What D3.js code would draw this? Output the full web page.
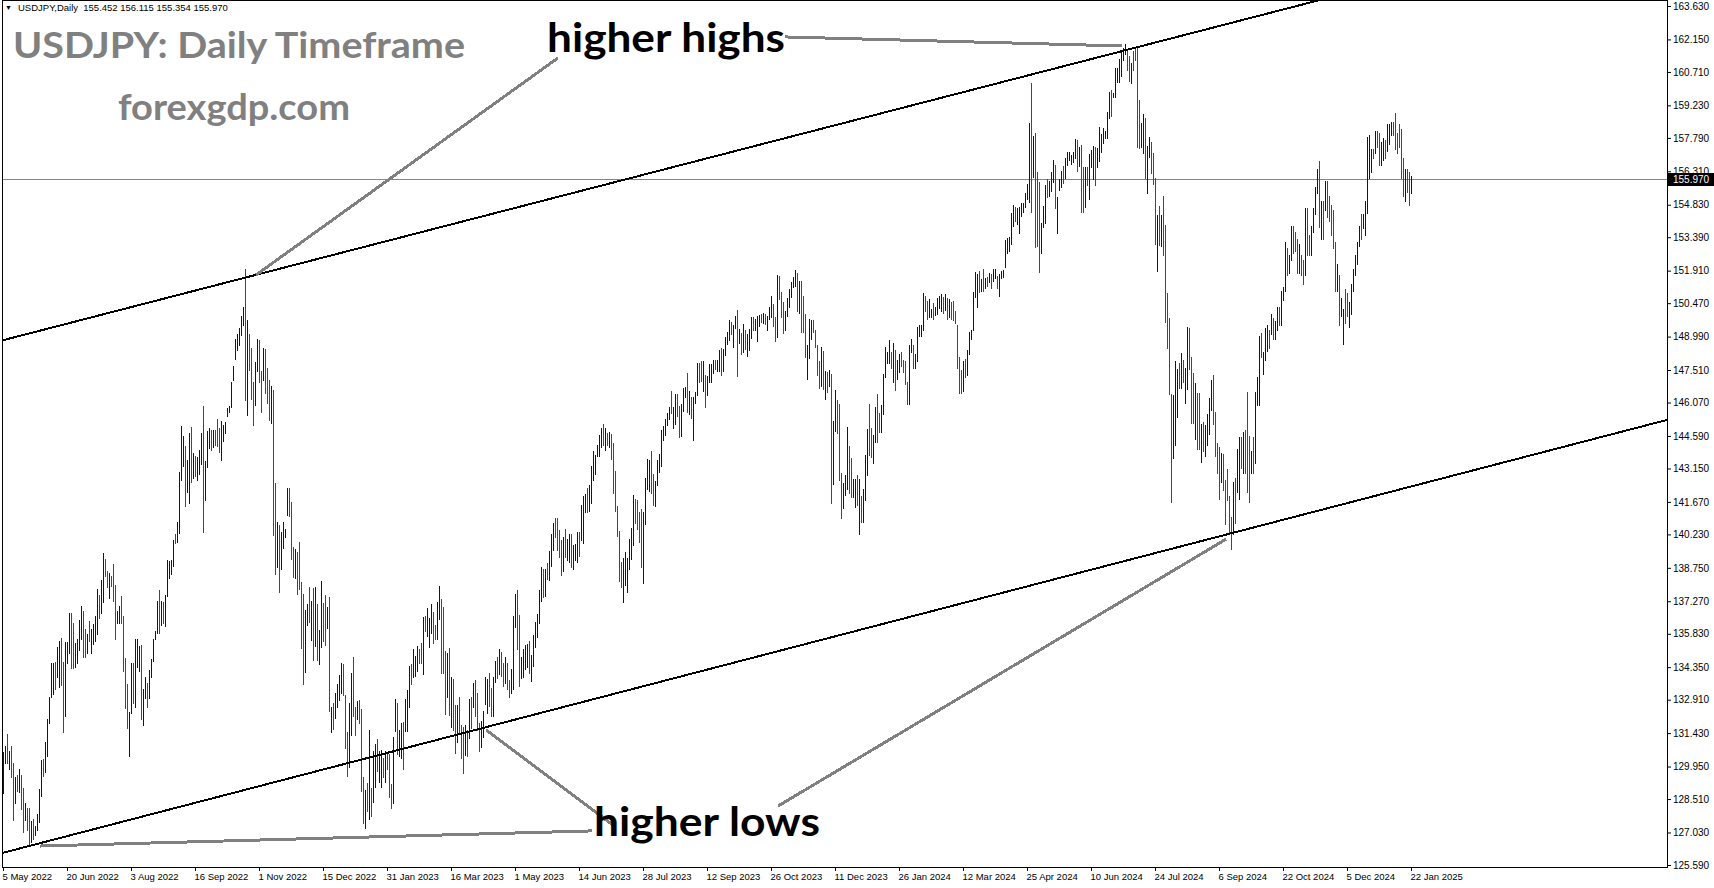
<!DOCTYPE html>
<html><head><meta charset="utf-8">
<script src="https://cdn.jsdelivr.net/npm/d3@7"></script>
<style>html,body{margin:0;padding:0;background:#fff;overflow:hidden}svg{display:block}</style>
</head><body>
<svg id="chart" width="1714" height="888"></svg>
<script>
// ---------------- DATA ----------------
const symbolName = "USDJPY,Daily";
const lastOHLC = [155.452, 156.115, 155.354, 155.970];
const currentPrice = 155.970;
const titleText = "USDJPY: Daily Timeframe";
const siteText = "forexgdp.com";
const firstDate = "2022-05-05";
const holidays = ["2023-01-02", "2023-12-25", "2024-01-01", "2024-12-25", "2025-01-01"];
const xTickLabels = ["5 May 2022","20 Jun 2022","3 Aug 2022","16 Sep 2022","1 Nov 2022","15 Dec 2022",
  "31 Jan 2023","16 Mar 2023","1 May 2023","14 Jun 2023","28 Jul 2023","12 Sep 2023","26 Oct 2023",
  "11 Dec 2023","26 Jan 2024","12 Mar 2024","25 Apr 2024","10 Jun 2024","24 Jul 2024","6 Sep 2024",
  "22 Oct 2024","5 Dec 2024","22 Jan 2025"];
const yTickValues = [163.630,162.150,160.710,159.230,157.790,156.310,154.830,153.390,151.910,150.470,
  148.990,147.510,146.070,144.590,143.150,141.670,140.230,138.750,137.270,135.830,134.350,132.910,
  131.430,129.950,128.510,127.030,125.590];

// daily bar highs (one per trading day)
const highs = [
  130.59,130.86,131.39,130.65,130.86,130.12,129.47,129.57,129.82,129.57,
  128.98,128.32,128.13,128.13,127.54,127.61,127.31,127.87,128.94,130.24,
  130.27,131.05,132.04,133.04,134.55,134.55,134.59,135.26,135.51,135.63,
  134.59,135.48,135.48,136.73,136.73,136.32,135.40,135.58,136.44,137.06,
  136.85,136.02,135.82,136.41,136.02,136.26,136.61,137.80,137.54,138.21,
  139.39,139.12,138.62,138.53,138.39,138.92,137.99,136.85,137.06,137.50,
  136.61,134.74,133.60,132.38,134.55,134.55,135.58,135.58,135.29,135.33,
  133.37,133.93,133.63,134.22,134.70,135.58,135.96,137.29,137.77,137.29,
  137.25,137.54,139.09,139.06,139.09,139.98,140.25,140.80,143.00,
  145.03,144.59,144.13,143.52,144.72,145.00,143.85,143.72,143.64,143.97,
  144.72,145.90,143.47,144.80,144.92,144.87,144.84,144.84,145.33,144.92,
  145.25,145.08,145.20,145.82,145.90,146.97,147.67,148.90,149.10,149.39,
  149.92,150.30,151.97,149.72,149.10,148.48,147.00,147.85,148.89,148.85,
  147.46,148.48,148.44,147.59,147.05,146.80,146.64,142.49,140.80,140.64,
  140.32,140.77,140.49,142.28,142.28,141.65,139.67,139.59,139.46,139.91,
  138.14,137.59,136.88,137.13,137.90,137.29,137.86,137.90,137.16,136.01,
  138.18,137.21,137.54,137.00,137.48,132.57,132.75,133.19,133.60,134.00,
  134.53,134.50,133.11,131.47,132.78,134.09,134.80,132.57,132.86,132.90,
  132.52,129.50,128.91,129.23,131.59,128.98,130.65,130.95,131.15,130.65,
  130.68,130.31,130.65,130.56,130.50,129.17,131.24,132.92,132.75,131.57,
  131.89,131.93,132.92,133.34,134.40,134.49,135.14,134.84,135.29,135.14,
  135.40,136.58,136.61,136.95,136.55,137.15,136.81,136.22,137.25,137.94,
  137.35,137.03,135.06,134.96,135.18,133.90,133.81,132.67,132.67,133.04,
  131.79,131.71,131.79,131.59,132.92,133.04,133.66,133.78,133.19,131.89,
  131.98,132.42,133.93,133.81,134.10,133.45,133.90,134.64,134.78,135.14,
  135.03,134.52,134.78,134.52,133.78,134.25,136.61,137.59,137.79,136.66,
  134.81,135.14,135.33,135.37,135.52,134.89,135.77,136.36,136.70,137.77,
  138.77,138.72,138.72,138.98,139.51,140.27,140.72,140.97,140.97,140.42,
  139.98,140.13,140.45,140.01,140.27,140.25,139.76,139.80,140.35,140.35,
  141.53,141.93,142.01,142.27,142.42,143.26,143.94,143.74,144.19,144.63,
  144.93,145.12,144.93,144.73,144.78,144.67,144.26,143.05,141.49,140.39,
  139.02,139.17,139.46,139.20,140.01,140.50,141.97,141.82,141.75,141.23,
  141.34,141.23,142.71,143.55,143.52,143.94,142.90,142.61,143.52,143.79,
  144.85,145.03,145.32,145.62,145.88,146.59,145.88,146.45,146.45,145.91,
  146.00,146.70,146.77,147.39,146.59,146.30,146.33,146.55,147.80,147.83,
  147.91,147.91,147.29,147.24,147.76,147.76,147.95,147.95,147.95,148.39,
  148.47,148.42,148.96,149.21,149.72,149.63,149.50,149.90,150.17,149.31,
  149.16,149.55,149.28,149.10,149.31,149.87,149.87,149.75,149.90,149.94,
  149.99,150.05,149.99,149.90,150.31,150.79,150.43,149.87,151.72,151.67,
  150.98,150.53,150.14,150.68,151.08,151.42,151.61,151.94,151.79,151.46,
  151.46,150.79,149.99,148.62,149.75,149.72,149.72,149.28,148.62,147.92,
  148.51,148.36,147.48,147.42,147.51,147.33,145.23,146.62,146.18,146.00,
  142.93,142.52,142.86,144.99,144.14,143.60,142.67,142.70,142.86,142.67,
  141.93,142.22,143.74,144.90,146.00,144.95,144.65,145.88,146.45,145.62,
  145.96,147.33,148.54,148.32,148.84,148.32,148.69,148.39,147.95,148.22,
  148.30,147.95,147.90,147.00,148.60,148.90,148.60,148.20,149.40,149.50,
  149.50,150.91,150.79,150.58,150.64,150.20,150.46,150.32,150.69,150.79,
  150.88,150.76,150.88,150.72,150.64,150.54,150.58,150.14,149.50,148.10,
  147.50,147.90,148.00,148.40,149.20,149.30,150.98,151.84,151.76,151.91,
  151.53,151.97,151.57,151.62,151.79,151.76,151.97,151.97,151.68,151.76,
  151.91,151.94,153.27,153.34,153.39,154.45,154.82,154.75,154.67,154.72,
  154.89,154.92,155.37,155.75,158.44,160.21,157.88,157.99,156.30,155.85,
  154.01,154.78,155.71,155.96,155.90,156.30,156.81,156.59,155.16,155.96,
  156.34,156.55,156.88,157.18,157.18,157.03,157.18,157.73,157.70,157.38,
  157.48,156.51,156.51,156.51,157.06,157.25,157.45,157.37,157.36,158.26,
  157.96,158.23,158.11,158.93,159.83,159.90,159.76,160.89,160.89,161.30,
  161.70,161.75,161.94,161.64,161.40,161.10,161.64,161.82,161.75,159.46,
  158.45,158.83,158.65,157.45,157.85,157.60,157.11,156.01,154.37,154.78,
  154.38,155.23,153.93,150.92,149.81,146.43,146.40,147.90,147.57,147.82,
  148.27,147.97,147.60,149.42,149.36,148.09,147.37,146.95,146.50,146.47,
  145.13,145.20,145.08,145.58,146.28,147.07,147.27,145.65,144.30,144.08,
  143.85,143.78,142.63,143.14,141.91,140.98,142.54,142.73,144.00,144.53,
  144.53,144.75,144.87,146.55,144.57,143.93,144.53,146.55,147.22,149.02,
  149.17,148.30,149.37,149.50,149.30,149.98,149.80,149.70,150.30,150.30,
  151.00,151.20,153.20,152.90,152.60,153.90,153.90,153.60,153.30,153.10,
  152.60,152.40,154.70,154.70,153.50,153.90,154.70,155.60,156.41,156.77,
  155.00,155.00,155.90,155.90,155.20,154.80,154.60,153.20,152.20,151.70,
  150.70,150.20,151.10,150.90,150.50,151.30,152.00,152.60,153.20,153.90,
  154.40,154.40,155.00,157.85,157.90,157.30,157.30,158.10,158.10,158.00,
  157.60,157.80,157.70,158.40,158.40,158.50,158.50,158.91,158.00,158.40,
  158.20,156.90,156.40,156.40,156.30,156.12
];

// daily bar lows
const lows = [
  128.80,130.12,130.12,129.82,129.47,127.58,128.32,128.88,128.83,128.05,
  127.06,127.58,127.14,126.43,126.62,126.72,126.92,127.14,127.51,128.64,
  129.53,129.72,130.41,131.89,133.01,133.16,133.37,133.90,133.48,133.56,
  131.49,132.19,134.55,134.96,134.30,134.30,134.37,134.55,135.11,135.58,
  134.78,134.78,134.96,135.52,134.96,135.37,135.52,135.82,136.51,136.73,
  137.25,138.39,137.91,137.40,137.94,137.29,135.58,136.29,136.29,136.32,
  134.19,132.53,131.64,130.41,132.30,132.78,132.60,134.37,134.19,132.04,
  131.77,132.97,132.57,132.97,133.93,134.64,135.58,135.88,135.85,136.22,
  136.32,136.17,137.50,138.28,138.47,138.83,139.86,139.90,140.30,
  142.62,143.28,141.51,142.10,141.60,142.54,142.75,142.82,142.62,142.90,
  143.36,140.32,141.75,143.23,144.06,143.97,144.10,144.18,144.15,143.88,
  143.52,144.38,144.74,145.46,145.66,145.85,147.08,147.98,148.41,148.61,
  149.07,149.51,146.18,145.52,147.53,146.23,145.08,145.95,147.46,146.97,
  145.66,147.05,146.51,146.07,145.28,145.16,140.21,138.47,138.77,137.67,
  138.68,139.62,140.11,141.10,141.06,139.13,138.36,138.31,137.59,137.83,
  135.19,133.60,134.13,136.22,136.34,135.57,134.67,135.27,134.67,134.50,
  135.24,135.49,135.32,136.10,132.40,131.47,131.63,132.12,132.60,132.90,
  133.20,133.11,130.76,129.55,129.91,131.34,132.20,131.34,132.04,131.90,
  128.88,127.46,127.24,127.99,127.61,127.76,128.39,129.06,129.76,129.28,
  129.06,129.50,129.28,129.82,128.58,128.10,128.35,131.54,130.50,130.41,
  130.35,129.82,131.54,131.54,132.57,133.60,133.93,133.96,134.19,134.55,
  134.52,134.05,135.96,135.73,135.26,135.88,135.40,135.58,135.58,136.47,
  134.10,134.10,132.27,133.04,132.23,131.71,131.57,130.56,131.05,131.42,
  130.31,129.68,130.46,130.41,131.20,131.64,132.60,132.19,131.57,130.65,
  130.80,131.27,132.72,132.33,132.63,132.19,132.19,133.71,133.85,134.05,
  133.96,133.51,133.63,133.37,133.01,133.22,133.37,136.11,135.14,133.51,
  133.85,133.90,134.25,134.34,134.10,133.75,134.40,135.23,135.67,136.32,
  137.29,137.44,137.50,138.24,138.21,138.83,139.54,140.13,139.56,139.24,
  138.43,138.62,139.24,139.09,139.02,138.80,138.72,139.09,139.02,139.27,
  139.98,139.86,141.23,141.23,141.28,141.63,142.64,142.90,143.70,143.70,
  144.11,144.19,143.99,144.19,144.08,143.55,142.08,141.28,140.16,138.18,
  137.91,137.25,137.99,137.69,138.72,139.12,139.76,140.72,140.45,139.91,
  138.77,138.06,140.69,142.22,142.17,142.08,141.53,141.49,142.42,143.01,
  143.26,144.41,144.63,145.07,145.32,145.62,144.93,145.12,145.47,144.56,
  144.59,145.71,146.30,145.66,145.56,145.37,144.41,146.03,146.40,146.99,
  147.04,146.59,145.88,146.40,146.99,146.99,147.36,147.54,147.48,147.46,
  147.29,147.48,148.17,148.66,148.84,149.10,148.51,149.35,147.24,148.69,
  148.22,148.32,148.42,148.13,148.39,148.91,149.28,149.28,148.81,149.46,
  149.65,149.60,149.55,149.28,149.75,149.84,149.46,148.81,148.98,150.64,
  149.84,149.13,149.28,149.90,150.31,150.76,151.17,151.23,150.14,150.05,
  149.21,149.21,148.10,147.12,148.03,148.87,149.21,148.51,147.29,146.70,
  146.80,146.65,146.24,146.55,146.80,141.63,142.46,144.82,144.73,142.64,
  140.97,141.41,141.97,142.24,142.05,141.87,141.87,141.46,141.53,140.27,
  140.79,140.79,141.75,142.86,143.74,143.67,143.40,144.33,144.33,144.78,
  144.75,145.56,147.21,147.83,147.80,147.58,146.99,146.62,147.10,147.43,
  147.70,147.40,146.90,146.00,146.00,148.30,147.60,147.60,147.90,149.00,
  149.00,149.30,150.13,149.76,149.84,149.84,149.76,149.95,149.99,150.24,
  150.14,150.05,150.17,149.76,149.84,149.76,149.73,149.60,147.60,146.50,
  146.50,146.60,147.20,147.30,148.20,148.90,149.30,150.73,150.29,150.98,
  151.03,151.03,151.13,151.23,151.42,151.13,151.47,151.57,151.13,150.79,
  151.57,151.62,152.06,152.71,152.80,153.09,153.89,154.13,153.98,153.59,
  154.33,154.52,154.72,155.07,154.97,154.52,156.04,152.97,152.98,151.86,
  152.71,153.83,154.01,155.16,155.22,155.44,155.85,154.67,153.59,155.46,
  155.63,155.81,156.00,156.59,156.79,156.63,156.74,156.88,156.34,156.55,
  154.51,154.51,154.75,155.71,155.08,156.51,155.98,155.71,156.51,156.76,
  157.15,157.55,157.78,157.78,158.65,158.75,159.58,159.58,160.25,160.25,
  160.55,161.25,161.52,160.80,160.32,160.20,160.80,161.22,157.40,157.33,
  157.40,157.11,156.01,155.35,156.96,156.25,155.76,153.11,151.91,153.06,
  153.02,152.61,149.62,148.50,146.43,141.68,143.63,144.18,145.43,146.70,
  146.70,147.00,146.07,146.65,147.57,145.17,145.17,144.45,144.03,144.03,
  143.44,143.93,143.70,144.18,144.68,145.73,145.13,143.70,142.96,141.79,
  142.54,142.21,140.71,141.76,140.26,139.59,140.26,140.74,142.13,141.79,
  143.18,142.93,142.96,142.09,141.68,142.96,142.96,143.41,145.95,145.95,
  148.10,147.35,147.95,148.35,148.50,149.10,148.90,148.90,149.30,149.50,
  149.50,150.60,151.00,151.70,151.80,152.40,152.70,152.80,151.80,151.80,
  151.70,151.30,151.70,152.60,152.60,152.60,153.60,154.40,155.34,153.86,
  153.30,153.30,154.60,154.30,154.10,153.50,152.90,151.00,151.00,149.50,
  149.90,148.65,149.60,149.90,149.40,150.00,151.00,151.70,152.20,153.00,
  153.30,153.80,153.50,154.45,156.00,156.30,156.90,157.10,157.40,156.60,
  156.60,156.80,156.90,157.20,157.50,157.90,157.90,157.30,157.10,157.40,
  156.00,155.20,154.98,155.40,154.80,155.35
];

// bar direction per day: u = close above open (blue), d = close below open (red)
const barDirs = [
  "uududdudud","dudduduuuu","duuuuuduud","duuudduuuu","dduduuuudu","udduddduud","ddduuduuud","uuduuuuudu","duuuuuduu",
  "uuduududuu","uduuududdd","uuuuuuuuuu","uududdduud","duddduddud","uuuudddudd","dduudududu","uddududuuu","uddduuddud",
  "ddududuudu","ududdduudu","uduuuduuud","duduuudduu","dddududdud","ddudududdd","uuuudduudu","ddudduuudd","uuuuduuuuu",
  "ududuuuddd","duduuduuud","uuuduuuuuu","udududdddd","duuuuuuddd","duuuudduuu","uuuuuduudd","uuududuuud","duduuuuduu",
  "duuuuduudu","duduuuduuu","duduuuddud","dduuuuuudu","ddduuudddd","udududuudd","duuudduudu","duuudduudd","uuuuududuu",
  "dddduuduuu","uudduuduuu","udududdddd","duduuuuuud","udududuudu","uuuuuuuduu","uuuuududdd","uuuduuuduu","uduuuuuudu",
  "dduduuuduu","uuuuuduuuu","uuuddudddd","uuduudddud","uddddduuud","uduudddudd","uduuuudddd","uddddduduu","duddduduuu",
  "duuududuud","uuuduudddu","ddudduuuud","ududddddud","uudduuuuuu","duuuuududd","uuduuudddd","dduddu"
];

// trend-channel anchors: [bar index, price]
const upperChannel = [[0, 148.83], [538, 161.14]];
const lowerChannel = [[0, 126.13], [832, 145.30]];
// annotation pointer lines: [bar index, price] pairs
const pointerLines = [
  [[126.5, 151.72], [277.5, 161.33]],
  [[391, 162.26], [559.5, 161.86]],
  [[18.5, 126.43], [294.5, 127.10]],
  [[241.5, 131.57], [305.5, 127.32]],
  [[387.5, 128.20], [611.5, 140.02]]
];

// ---------------- DRAW ----------------
const W = 1714, H = 888;
const plot = {left: 2, right: 1667, top: 0, bottom: 867};
const n = highs.length;
const dirs = barDirs.join("").split("");

const parseISO = d3.utcParse("%Y-%m-%d");
const fmtISO = d3.utcFormat("%Y-%m-%d");
const fmtLabel = d3.utcFormat("%-d %b %Y");
const dates = [];
let cur = parseISO(firstDate);
while (dates.length < n) {
  const wd = cur.getUTCDay();
  if (wd !== 0 && wd !== 6 && !holidays.includes(fmtISO(cur))) dates.push(cur);
  cur = d3.utcDay.offset(cur, 1);
}
const labelIndex = new Map(dates.map((d, i) => [fmtLabel(d), i]));
const xTickIdx = xTickLabels.map(l => labelIndex.get(l));

const x = d3.scaleLinear().domain([0, n - 1]).range([3, 3 + 2 * (n - 1)]);
const y = d3.scaleLinear().domain([yTickValues[yTickValues.length - 1], yTickValues[0]]).range([865, 6]);

const svg = d3.select("#chart");
svg.append("rect").attr("width", W).attr("height", H).attr("fill", "#fff");
svg.append("defs").append("clipPath").attr("id", "plotClip")
  .append("rect").attr("x", plot.left + 1).attr("y", plot.top + 1)
  .attr("width", plot.right - plot.left - 1).attr("height", plot.bottom - plot.top - 1);

const body = svg.append("g").attr("clip-path", "url(#plotClip)");

// bid line
body.append("line")
  .attr("x1", plot.left).attr("x2", plot.right)
  .attr("y1", Math.round(y(currentPrice)) + 0.5).attr("y2", Math.round(y(currentPrice)) + 0.5)
  .attr("stroke", "#778899").attr("stroke-width", 1);

// bars
const bars = d3.range(n).map(i => ({i, h: highs[i], l: lows[i], up: dirs[i] === "u"}));
body.append("g").attr("shape-rendering", "crispEdges")
  .selectAll("rect").data(bars).join("rect")
  .attr("x", d => Math.round(x(d.i)))
  .attr("y", d => Math.round(y(d.h)))
  .attr("width", 1)
  .attr("height", d => Math.max(1, Math.round(y(d.l)) - Math.round(y(d.h)) + 1))
  .attr("fill", d => d.up ? "#0000cc" : "#ee0000");

// channel lines
function priceOn(anchors, b) {
  const [[b0, p0], [b1, p1]] = anchors;
  return p0 + (b - b0) * (p1 - p0) / (b1 - b0);
}
const bLeft = x.invert(plot.left), bRight = x.invert(plot.right);
[upperChannel, lowerChannel].forEach(a => {
  body.append("line")
    .attr("x1", plot.left).attr("y1", y(priceOn(a, bLeft)))
    .attr("x2", plot.right).attr("y2", y(priceOn(a, bRight)))
    .attr("stroke", "#000").attr("stroke-width", 2).attr("shape-rendering", "crispEdges");
});

// pointer lines
body.append("g").selectAll("line").data(pointerLines).join("line")
  .attr("x1", d => x(d[0][0])).attr("y1", d => y(d[0][1]))
  .attr("x2", d => x(d[1][0])).attr("y2", d => y(d[1][1]))
  .attr("stroke", "#808080").attr("stroke-width", 3).attr("shape-rendering", "crispEdges");

// annotation texts
const annFont = "Lato, 'Open Sans', sans-serif";
function bigText(str, px, py, size, len, color) {
  svg.append("text").attr("x", px).attr("y", py)
    .attr("font-family", annFont).attr("font-weight", 700).attr("font-size", size)
    .attr("fill", color).attr("textLength", len).attr("lengthAdjust", "spacingAndGlyphs")
    .text(str);
}
bigText(titleText, 13, 58, 37, 452, "#808080");
bigText(siteText, 118, 120, 37, 232, "#808080");
bigText("higher highs", 547, 52, 41, 238, "#000");
bigText("higher lows", 594, 836, 41, 226, "#000");

// header
const uiFont = "'Liberation Sans', Arial, sans-serif";
svg.append("text").attr("x", 5).attr("y", 10).attr("font-family", uiFont).attr("font-size", 7)
  .attr("fill", "#000").text("\u25BC");
svg.append("text").attr("x", 18).attr("y", 11).attr("font-family", uiFont).attr("font-size", 9.5)
  .attr("fill", "#000").style("white-space", "pre")
  .text(symbolName + "  " + lastOHLC.map(v => v.toFixed(3)).join(" "));

// frame
svg.append("rect").attr("x", plot.left + 0.5).attr("y", plot.top + 0.5)
  .attr("width", plot.right - plot.left).attr("height", plot.bottom - plot.top)
  .attr("fill", "none").attr("stroke", "#000").attr("stroke-width", 1);

// y axis
const gy = svg.append("g").attr("transform", `translate(${plot.right},0)`)
  .call(d3.axisRight(y).tickValues(yTickValues).tickFormat(d3.format(".3f")).tickSize(4).tickPadding(2));
gy.select(".domain").remove();
gy.selectAll("line").attr("stroke", "#000");
gy.selectAll("text").attr("font-family", uiFont).attr("font-size", 10).attr("fill", "#000");

// current price tag
const cy = Math.round(y(currentPrice));
svg.append("rect").attr("x", plot.right + 1).attr("y", cy - 6).attr("width", W - plot.right - 1).attr("height", 13).attr("fill", "#000");
svg.append("text").attr("x", plot.right + 6).attr("y", cy).attr("dy", "0.35em")
  .attr("font-family", uiFont).attr("font-size", 10).attr("fill", "#fff").text(currentPrice.toFixed(3));

// x axis
const gx = svg.append("g").attr("transform", `translate(0,${plot.bottom})`)
  .call(d3.axisBottom(x).tickValues(xTickIdx).tickFormat((d, i) => xTickLabels[i]).tickSize(4).tickPadding(2));
gx.select(".domain").remove();
gx.selectAll("line").attr("stroke", "#000");
gx.selectAll("text").attr("text-anchor", "start").attr("dx", -1)
  .attr("font-family", uiFont).attr("font-size", 9.5).attr("fill", "#000");
</script>
</body></html>
